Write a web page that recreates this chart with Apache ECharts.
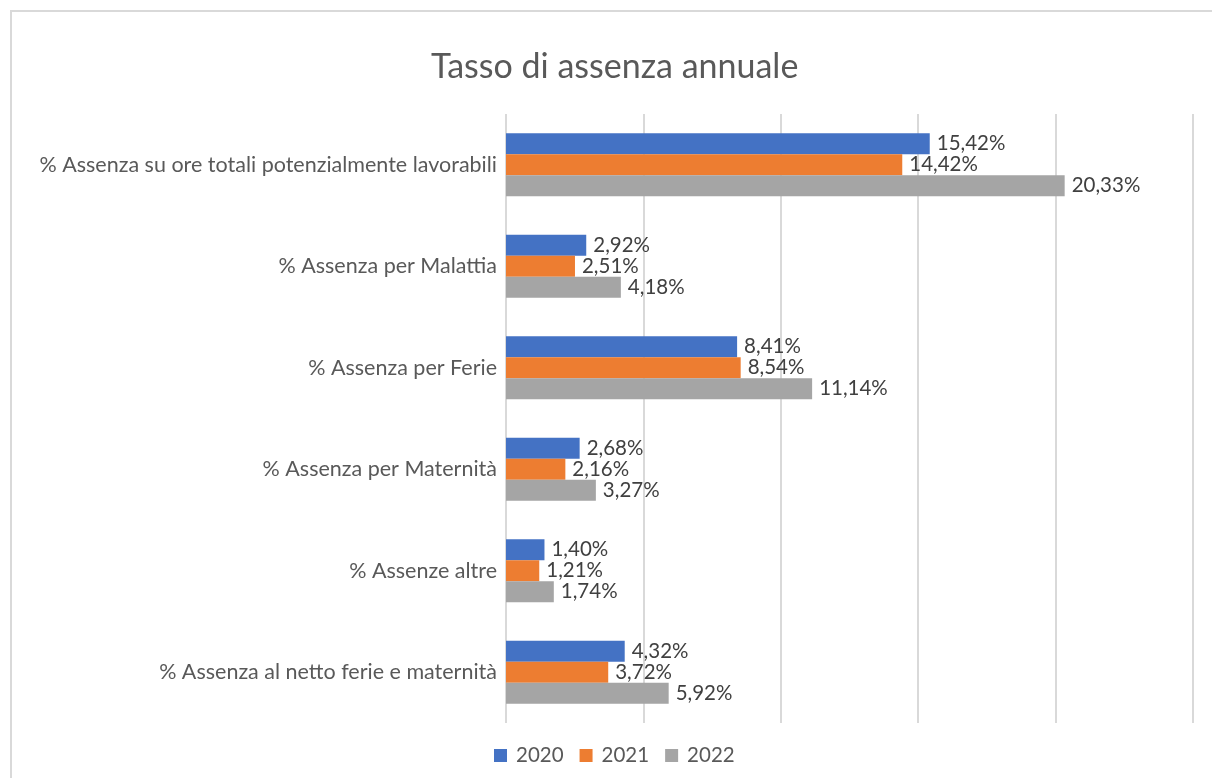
<!DOCTYPE html>
<html><head><meta charset="utf-8">
<script src="https://cdn.jsdelivr.net/npm/echarts@6/dist/echarts.min.js"></script>
<style>
html,body{margin:0;padding:0;background:#fff;}
#frame{position:absolute;left:10px;top:10px;width:1300px;height:900px;border:2px solid #d9d9d9;box-sizing:border-box;}
#c{position:absolute;left:0;top:0;width:1212px;height:778px;}
</style></head>
<body>
<div id="frame"></div>
<div id="c"></div>
<script>
const categories = [
  "% Assenza su ore totali potenzialmente lavorabili",
  "% Assenza per Malattia",
  "% Assenza per Ferie",
  "% Assenza per Maternità",
  "% Assenze altre",
  "% Assenza al netto ferie e maternità"
];
const seriesNames = ["2020", "2021", "2022"];
const v2020 = [15.42, 2.92, 8.41, 2.68, 1.40, 4.32];
const v2021 = [14.42, 2.51, 8.54, 2.16, 1.21, 3.72];
const v2022 = [20.33, 4.18, 11.14, 3.27, 1.74, 5.92];
const colors = ["#4472c4", "#ed7d31", "#a5a5a5"];

const chart = echarts.init(document.getElementById('c'), null, {renderer:'canvas'});
const fontFam = 'Lato, "Open Sans", sans-serif';
const mk = (name, data, color) => ({
  name, type:'bar', data, barWidth:21, barGap:'0%',
  itemStyle:{color},
  label:{show:true, position:'right', distance:7, color:'#404040', fontSize:20.5, fontFamily:fontFam,
    formatter: p => p.value.toFixed(2).replace('.', ',') + '%'}
});
chart.setOption({
  animation:false,
  title:{text:'Tasso di assenza annuale', left:426, top:45,
    textStyle:{fontSize:34, fontWeight:'normal', color:'#595959', fontFamily:fontFam}},
  legend:{bottom:7, left:489, itemWidth:13, itemHeight:13, itemGap:16,
    icon:'rect', textStyle:{fontSize:20.5, color:'#595959', fontFamily:fontFam, padding:[0,0,0,4]}},
  grid:{left:506, right:19, top:114, bottom:55, containLabel:false},
  xAxis:{type:'value', min:0, max:25, interval:5,
    axisLabel:{show:false}, axisLine:{show:false}, axisTick:{show:false},
    splitLine:{lineStyle:{color:'#d9d9d9', width:2}}},
  yAxis:{type:'category', data:categories, inverse:true,
    axisLine:{show:false}, axisTick:{show:false},
    axisLabel:{fontSize:21.5, color:'#595959', fontFamily:fontFam, margin:9}},
  series:[mk(seriesNames[0], v2020, colors[0]), mk(seriesNames[1], v2021, colors[1]), mk(seriesNames[2], v2022, colors[2])]
});
</script>
</body></html>
